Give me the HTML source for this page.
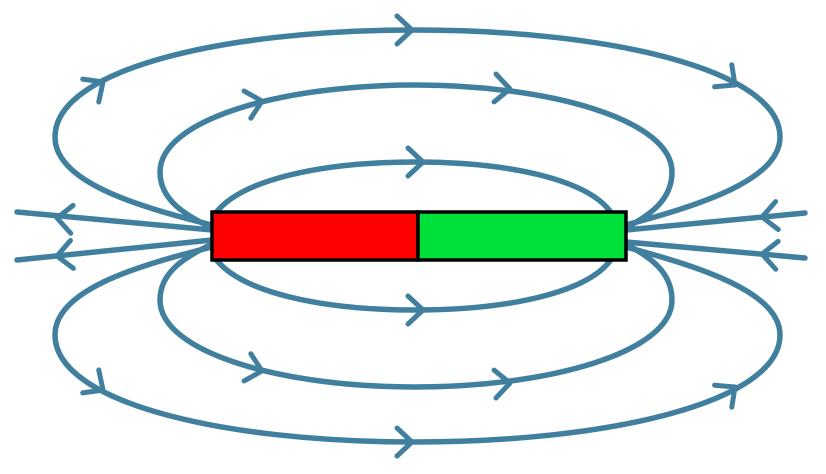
<!DOCTYPE html>
<html><head><style>html,body{margin:0;padding:0;background:#fff}svg{display:block}</style></head>
<body>
<svg width="826" height="474" viewBox="0 0 826 474" xmlns="http://www.w3.org/2000/svg">
<defs>
<polyline id="ch" points="-15,-14 0,0 -15,14" fill="none" stroke="#40809e" stroke-width="5" stroke-linecap="round" stroke-linejoin="round"/>
</defs>
<g fill="none" stroke="#40809e" stroke-width="5.5" stroke-linecap="round">
<g id="top">
<path d="M212,225 C130,205 55,180 55,137 C55,70 220,30 415,30 C610,30 780,70 780,137 C780,180 700,205 626,225"/>
<path d="M212,228 C185,215 160,200 160,172 C160,120 280,85 415,85 C550,85 672,120 672,172 C672,200 650,215 626,228"/>
<path d="M215,214 C240,180 320,162 415,162 C510,162 590,180 612,214"/>
</g>
<g transform="translate(0,472) scale(1,-1)">
<path d="M212,225 C130,205 55,180 55,137 C55,70 220,30 415,30 C610,30 780,70 780,137 C780,180 700,205 626,225"/>
<path d="M212,228 C185,215 160,200 160,172 C160,120 280,85 415,85 C550,85 672,120 672,172 C672,200 650,215 626,228"/>
<path d="M215,214 C240,180 320,162 415,162 C510,162 590,180 612,214"/>
</g>
<path d="M212,230 L17,212"/><path d="M212,240 L17,260"/>
<path d="M626,230 L805,213"/><path d="M626,242 L805,258"/>
</g>
<g>
<use href="#ch" transform="translate(412,30)"/>
<use href="#ch" transform="translate(103,82) rotate(-35)"/>
<use href="#ch" transform="translate(735,85) rotate(38)"/>
<use href="#ch" transform="translate(262,101) rotate(-14)"/>
<use href="#ch" transform="translate(510,89) rotate(4)"/>
<use href="#ch" transform="translate(423,162)"/>
<g transform="translate(0,472) scale(1,-1)">
<use href="#ch" transform="translate(412,30)"/>
<use href="#ch" transform="translate(103,82) rotate(-35)"/>
<use href="#ch" transform="translate(735,85) rotate(38)"/>
<use href="#ch" transform="translate(262,101) rotate(-14)"/>
<use href="#ch" transform="translate(510,89) rotate(4)"/>
<use href="#ch" transform="translate(423,162)"/>
</g>
<use href="#ch" transform="translate(57,218) rotate(185)"/>
<use href="#ch" transform="translate(57,256) rotate(174)"/>
<use href="#ch" transform="translate(762,217) rotate(174.5)"/>
<use href="#ch" transform="translate(762,254) rotate(185)"/>
</g>
<rect x="212" y="212" width="206" height="48" fill="#ff0000" stroke="#000" stroke-width="3.5"/>
<rect x="418" y="212" width="208" height="48" fill="#00e03a" stroke="#000" stroke-width="3.5"/>
</svg>
</body></html>
